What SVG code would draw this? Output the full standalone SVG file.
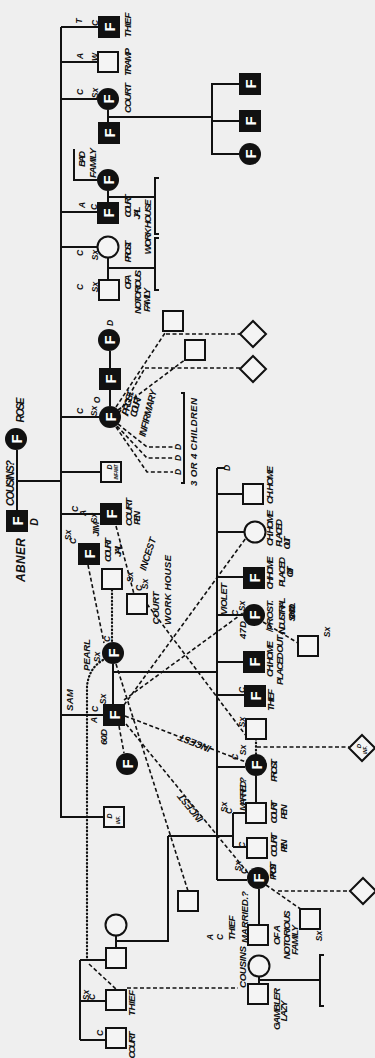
<svg xmlns="http://www.w3.org/2000/svg" width="375" height="1058" viewBox="0 0 375 1058">
<style>
.bg{fill:#efefef}
.ln{stroke:#111;stroke-width:2;fill:none}
.ds{stroke:#111;stroke-width:1.6;fill:none;stroke-dasharray:4 2.5}
.dt{stroke:#111;stroke-width:2.2;fill:none;stroke-dasharray:0.6 3;stroke-linecap:round}
.os{fill:#f4f4f4;stroke:#111;stroke-width:2}
.fl{fill:#111}
.f{fill:#fff;font-family:"Liberation Sans",Arial,sans-serif;font-weight:bold;font-size:15px;text-anchor:middle;dominant-baseline:central}
.t{fill:#111;font-family:"Liberation Sans",Arial,sans-serif;font-weight:bold;font-style:italic;font-size:9.8px;text-anchor:middle}
.l{font-size:8.5px}
.s{font-size:4.5px}
.b{font-size:10.5px}
</style>
<defs>
<g id="FS"><rect x="-11" y="-11" width="22" height="22" class="fl"/><text class="f" transform="rotate(-90)">F</text></g>
<g id="FC"><circle r="11" class="fl"/><text class="f" transform="rotate(-90)">F</text></g>
<rect id="OS" x="-10" y="-10" width="20" height="20" class="os"/>
<circle id="OC" r="10.5" class="os"/>
<polygon id="DM" points="0,-13 13,0 0,13 -13,0" class="os"/>
</defs>
<rect class="bg" width="375" height="1058"/>

<g id="connectors">
<path class="ln" d="M17 450V510M17 481H61M61 27V818M61 27H98M61 62H98M61 99H97M108 110V122M108 117H212M212 83V155M212 84H239M212 121H239M212 154H239M74 149V180H97M108 191V202M61 212H97M108 197H155M159 178H155V234H159M61 247H97M108 258V280M108 268H155M159 238H155V290H159M110 351V368M110 390V406M61 417H99M61 472H100M61 514H100M181 393H184V483H181"/>
<path class="ln" d="M113 664V704M113 672H217M61 715H103M61 817H103M217 468V880M217 468H225M217 494H243M217 532H244M217 577H243M217 615H243M217 662H243M217 695H244M217 767H245M256 776V803M233 813V847M233 813H246M233 847H246M168 836H233M168 836V941H116M217 880H247M259 889V925M259 977V984M260 980H320M324 955H320V1006H324M116 936V948M80 960V1040M80 960H105M80 1001H106M80 1040H106"/>
<path class="ds" d="M116 407L165 333M166 334H240M118 410L186 359M119 413L145 368M145 368H240M118 424L147 447H173M117 426L147 458H173M116 427L147 472H173"/>
<path class="ds" d="M88 565L104 643M119 726L124 753M125 716L246 762M126 724L248 873M124 705L246 538M124 700L243 613M116 526L134 594M147 604L247 737M116 664L188 891M263 622L298 643M257 747H349M266 885L302 910M278 891H350M89 964L116 989M127 988H238"/>
<path class="dt" d="M112 590V642M103 660Q89 668 87 686V958M256 739V754"/>
</g>

<g id="abner"><use href="#FS" x="17" y="521"/><text class="t" style="font-size:12px" transform="translate(25,560) rotate(-90)" textLength="44">ABNER</text><text class="t b" transform="translate(38,522) rotate(-90)">D</text></g>
<g id="rose"><use href="#FC" x="16" y="439"/><text class="t b" transform="translate(24,410) rotate(-90)" textLength="25">ROSE</text></g>
<g id="cousins-label"><text class="t b" transform="translate(14,483) rotate(-90)" textLength="46">COUSINS?</text></g>

<g id="n1"><use href="#FS" x="109" y="27"/><text class="t l" transform="translate(82,21) rotate(-90)">T</text><text class="t l" transform="translate(98,23) rotate(-90)">C</text><text class="t" transform="translate(131,25) rotate(-90)" textLength="25">THIEF</text></g>
<g id="n2"><use href="#OS" x="108" y="62"/><text class="t l" transform="translate(83,56) rotate(-90)">A</text><text class="t l" transform="translate(98,57) rotate(-90)">W</text><text class="t" transform="translate(131,62) rotate(-90)" textLength="28">TRAMP</text></g>
<g id="n3"><use href="#FC" x="108" y="99"/><text class="t l" transform="translate(83,92) rotate(-90)">C</text><text class="t l" transform="translate(98,93) rotate(-90)">Sx</text><text class="t" transform="translate(131,98) rotate(-90)" textLength="30">COURT</text></g>
<g id="n3-spouse"><use href="#FS" x="109" y="133"/></g>
<g id="n3-c1"><use href="#FS" x="250" y="84"/></g>
<g id="n3-c2"><use href="#FS" x="250" y="121"/></g>
<g id="n3-c3"><use href="#FC" x="250" y="154"/></g>
<g id="n4-spouse"><use href="#FC" x="108" y="180"/><text class="t" transform="translate(85,159) rotate(-90)" textLength="16">BAD</text><text class="t" transform="translate(96,163) rotate(-90)" textLength="30">FAMILY</text></g>
<g id="n4"><use href="#FS" x="108" y="213"/><text class="t l" transform="translate(85,205) rotate(-90)">A</text><text class="t l" transform="translate(97,207) rotate(-90)">C</text><text class="t" transform="translate(131,206) rotate(-90)" textLength="23">COURT</text><text class="t" transform="translate(140,213) rotate(-90)" textLength="13">JAIL</text><text class="t" transform="translate(151,227) rotate(-90)" textLength="55">WORK HOUSE</text></g>
<g id="n5"><use href="#OC" x="108" y="247"/><text class="t l" transform="translate(83,253) rotate(-90)">C</text><text class="t l" transform="translate(98,255) rotate(-90)">Sx</text><text class="t" transform="translate(131,252) rotate(-90)" textLength="21">PROST.</text></g>
<g id="n5-spouse"><use href="#OS" x="109" y="290"/><text class="t l" transform="translate(83,287) rotate(-90)">C</text><text class="t l" transform="translate(98,287) rotate(-90)">Sx</text><text class="t" transform="translate(131,282) rotate(-90)" textLength="15">OF A</text><text class="t" transform="translate(141,292) rotate(-90)" textLength="44">NOTORIOUS</text><text class="t" transform="translate(150,300) rotate(-90)" textLength="24">FAMILY</text></g>
<g id="n6-spouse2"><use href="#FC" x="109" y="340"/><text class="t l" transform="translate(113,323) rotate(-90)">D</text></g>
<g id="n6-spouse"><use href="#FS" x="110" y="379"/></g>
<g id="n6"><use href="#FC" x="110" y="417"/><text class="t l" transform="translate(83,411) rotate(-90)">C</text><text class="t l" transform="translate(97,411) rotate(-90)">Sx</text><text class="t l" transform="translate(100,400) rotate(-90)">O</text>
<text class="t" transform="translate(131,404) rotate(-76)" textLength="25">/PROST.</text><text class="t" transform="translate(139,407) rotate(-76)" textLength="22">COURT</text><text class="t" transform="translate(151,414) rotate(-76)" textLength="48">INFIRMARY</text>
<text class="t l" transform="translate(181,447) rotate(-90)">D</text><text class="t l" transform="translate(181,458) rotate(-90)">D</text><text class="t l" transform="translate(181,472) rotate(-90)">D</text>
<text class="t" transform="translate(197,442) rotate(-90)" textLength="88">3 OR 4 CHILDREN</text></g>
<g id="fanA"><use href="#OS" x="173" y="321"/></g>
<g id="fanB"><use href="#OS" x="195" y="350"/></g>
<g id="dm1"><use href="#DM" x="253" y="334"/></g>
<g id="dm2"><use href="#DM" x="253" y="369"/></g>
<g id="n7"><use href="#OS" x="111" y="472"/><text class="t" style="font-size:7px" transform="translate(112,467) rotate(-90)">D</text><text class="t s" transform="translate(118,472) rotate(-90)" textLength="15">INFANT</text></g>
<g id="jim"><use href="#FS" x="111" y="514"/><text class="t l" transform="translate(78,509) rotate(-90)">C</text><text class="t l" transform="translate(86,513) rotate(-90)">A</text><text class="t l" transform="translate(97,518) rotate(-90)">Sx</text><text class="t" transform="translate(132,512) rotate(-90)" textLength="28">COURT</text><text class="t" transform="translate(140,518) rotate(-90)" textLength="14">PEN</text><text class="t" transform="translate(99,529) rotate(-90)" textLength="15">JIM</text></g>
<g id="p1"><use href="#FS" x="89" y="554"/><text class="t l" transform="translate(71,535) rotate(-90)">Sx</text><text class="t l" transform="translate(76,541) rotate(-90)">C</text><text class="t" transform="translate(111,550) rotate(-90)" textLength="24">COURT</text><text class="t" transform="translate(121,550) rotate(-90)" textLength="14">JAIL</text></g>
<g id="p2"><use href="#OS" x="112" y="579"/><text class="t l" transform="translate(133,577) rotate(-90)">Sx</text></g>
<g id="p3"><use href="#OS" x="137" y="604"/><text class="t l" transform="translate(142,588) rotate(-90)">C</text><text class="t l" transform="translate(148,584) rotate(-90)">Sx</text><text class="t" transform="translate(159,608) rotate(-90)" textLength="33">COURT</text><text class="t" transform="translate(171,590) rotate(-90)" textLength="70">WORK HOUSE</text><text class="t" transform="translate(151,555) rotate(-72)" textLength="34">INCEST</text></g>
<g id="pearl"><use href="#FC" x="113" y="653"/><text class="t" transform="translate(90,655) rotate(-90)" textLength="32">PEARL</text><text class="t l" transform="translate(100,657) rotate(-90)">Sx</text><text class="t l" transform="translate(110,639) rotate(-90)">C</text></g>
<g id="sam"><use href="#FS" x="114" y="715"/><text class="t" transform="translate(73,700) rotate(-90)" textLength="22">SAM</text><text class="t l" transform="translate(98,709) rotate(-90)">C</text><text class="t l" transform="translate(97,720) rotate(-90)">A</text><text class="t l" transform="translate(106,699) rotate(-90)">Sx</text><text class="t" transform="translate(107,737) rotate(-90)" textLength="16">60D</text>
<text class="t" transform="translate(196,740) rotate(201.8)" textLength="34">INCEST</text><text class="t" transform="translate(193,806) rotate(231)" textLength="34">INCEST</text></g>
<g id="sam-wife2"><use href="#FC" x="127" y="764"/></g>
<g id="n9"><use href="#OS" x="114" y="817"/><text class="t" style="font-size:7px" transform="translate(112,816) rotate(-90)">D</text><text class="t s" transform="translate(120,820) rotate(-90)">INF.</text></g>

<g id="g3-d"><text class="t l" transform="translate(230,468) rotate(-90)">D</text></g>
<g id="g3-1"><use href="#OS" x="253" y="494"/><text class="t" transform="translate(273,485) rotate(-90)" textLength="38">CH. HOME</text></g>
<g id="g3-2"><use href="#OC" x="255" y="532"/><text class="t" transform="translate(273,528) rotate(-90)" textLength="36">CH. HOME</text><text class="t" transform="translate(282,533) rotate(-90)" textLength="28">PLACED</text><text class="t" transform="translate(290,543) rotate(-90)" textLength="13">OUT</text></g>
<g id="g3-3"><use href="#FS" x="254" y="578"/><text class="t" transform="translate(273,573) rotate(-90)" textLength="33">CH. HOME</text><text class="t" transform="translate(285,572) rotate(-90)" textLength="30">PLACED</text><text class="t" transform="translate(293,572) rotate(-90)" textLength="11">OUT</text></g>
<g id="violet"><use href="#FC" x="254" y="615"/><text class="t" transform="translate(227,599) rotate(-90)" textLength="32">VIOLET</text><text class="t l" transform="translate(238,613) rotate(-90)">C</text><text class="t l" transform="translate(245,606) rotate(-90)">Sx</text><text class="t" transform="translate(246,630) rotate(-90)" textLength="18">47D</text><text class="t" transform="translate(273,616) rotate(-90)" textLength="32">/PROST.</text><text class="t" transform="translate(285,616) rotate(-90)" textLength="37">/INDUSTRIAL</text><text class="t" transform="translate(295,612) rotate(-90)" textLength="19">SCHOOL</text></g>
<g id="violet-partner"><use href="#OS" x="308" y="646"/><text class="t l" transform="translate(330,632) rotate(-90)">Sx</text></g>
<g id="g3-5"><use href="#FS" x="254" y="662"/><text class="t" transform="translate(273,659) rotate(-90)" textLength="36">CH. HOME</text><text class="t" transform="translate(283,660) rotate(-90)" textLength="50">PLACED OUT</text></g>
<g id="g3-6"><use href="#FS" x="255" y="696"/><text class="t l" transform="translate(245,690) rotate(-90)">C</text><text class="t" transform="translate(274,700) rotate(-90)" textLength="22">THIEF</text></g>
<g id="g3-7-partner"><use href="#OS" x="256" y="729"/><text class="t l" transform="translate(245,722) rotate(-90)">Sx</text></g>
<g id="g3-7"><use href="#FC" x="256" y="765"/><text class="t l" transform="translate(238,757) rotate(-90)">C</text><text class="t l" transform="translate(246,750) rotate(-90)">Sx</text><text class="t" transform="translate(277,771) rotate(-90)" textLength="22">PROST.</text><text class="t" transform="translate(246,794) rotate(-90)" textLength="34">MARRIED ?</text></g>
<g id="dm3"><use href="#DM" x="362" y="748"/><text class="t" style="font-size:6px" transform="translate(361,746) rotate(-90)">D</text><text class="t s" transform="translate(367,750) rotate(-90)">INF.</text></g>
<g id="g3-8"><use href="#OS" x="256" y="813"/><text class="t l" transform="translate(227,807) rotate(-90)">Sx</text><text class="t l" transform="translate(232,811) rotate(-90)">C</text><text class="t" transform="translate(277,812) rotate(-90)" textLength="23">COURT</text><text class="t" transform="translate(287,812) rotate(-90)" textLength="15">PEN</text></g>
<g id="g3-9"><use href="#OS" x="257" y="848"/><text class="t l" transform="translate(245,845) rotate(-90)">C</text><text class="t" transform="translate(277,845) rotate(-90)" textLength="24">COURT</text><text class="t" transform="translate(287,846) rotate(-90)" textLength="13">PEN</text></g>
<g id="pearl-partner"><use href="#OS" x="188" y="901"/></g>
<g id="g3-10"><use href="#FC" x="258" y="878"/><text class="t" transform="translate(276,871) rotate(-90)" textLength="18">PROST</text><text class="t l" transform="translate(241,866) rotate(-90)">Sx</text><text class="t l" transform="translate(247,871) rotate(-90)">C</text></g>
<g id="g3-10-husband"><use href="#OS" x="258" y="935"/><text class="t l" transform="translate(213,937) rotate(-90)">A</text><text class="t l" transform="translate(223,937) rotate(-90)">C</text><text class="t" transform="translate(235,928) rotate(-90)" textLength="25">THIEF</text><text class="t" transform="translate(248,917) rotate(-90)" textLength="52">MARRIED.?</text><text class="t" transform="translate(280,935) rotate(-90)" textLength="20">OF A</text><text class="t" transform="translate(290,935) rotate(-90)" textLength="49">NOTORIOUS</text><text class="t" transform="translate(298,940) rotate(-90)" textLength="30">FAMILY</text></g>
<g id="g3-10-partner"><use href="#OS" x="310" y="919"/><text class="t l" transform="translate(322,936) rotate(-90)">Sx</text></g>
<g id="dm4"><use href="#DM" x="363" y="891"/></g>
<g id="g4-w"><use href="#OC" x="259" y="966"/><text class="t" transform="translate(246,967) rotate(-90)" textLength="42">COUSINS</text></g>
<g id="g4-h"><use href="#OS" x="258" y="994"/><text class="t" transform="translate(280,1009) rotate(-90)" textLength="42">GAMBLER</text><text class="t" transform="translate(287,1011) rotate(-90)" textLength="21">LAZY</text></g>
<g id="lf-w"><use href="#OC" x="116" y="925"/></g>
<g id="lf-h"><use href="#OS" x="116" y="958"/></g>
<g id="lf-c1"><use href="#OS" x="116" y="1000"/><text class="t l" transform="translate(89,995) rotate(-90)">Sx</text><text class="t l" transform="translate(95,997) rotate(-90)">C</text><text class="t" transform="translate(135,1003) rotate(-90)" textLength="26">THIEF</text></g>
<g id="lf-c2"><use href="#OS" x="116" y="1038"/><text class="t l" transform="translate(103,1033) rotate(-90)">C</text><text class="t" transform="translate(135,1045) rotate(-90)" textLength="27">COURT</text></g>
</svg>
